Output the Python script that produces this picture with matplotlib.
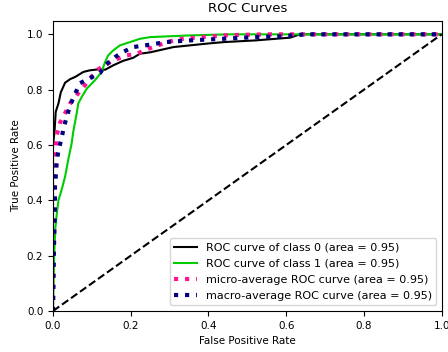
import matplotlib
matplotlib.use("Agg")
import matplotlib.pyplot as plt

# Class 0 ROC (black)
fpr0 = [0.0, 0.0, 0.004, 0.007, 0.014, 0.02, 0.031, 0.044, 0.057, 0.078, 0.095, 0.121, 0.134, 0.155, 0.18, 0.206, 0.224, 0.25, 0.31, 0.40, 0.44, 0.52, 0.61, 0.635, 1.0]
tpr0 = [0.0, 0.60, 0.65, 0.72, 0.75, 0.79, 0.825, 0.838, 0.846, 0.864, 0.870, 0.874, 0.872, 0.888, 0.904, 0.915, 0.93, 0.935, 0.954, 0.967, 0.972, 0.978, 0.988, 1.0, 1.0]

# Class 1 ROC (green)
fpr1 = [0.0, 0.003, 0.006, 0.01, 0.014, 0.022, 0.031, 0.039, 0.048, 0.052, 0.061, 0.065, 0.074, 0.087, 0.108, 0.125, 0.134, 0.142, 0.155, 0.172, 0.198, 0.224, 0.25, 0.35, 0.45, 1.0]
tpr1 = [0.0, 0.20, 0.30, 0.354, 0.40, 0.437, 0.485, 0.545, 0.606, 0.647, 0.715, 0.75, 0.774, 0.804, 0.834, 0.864, 0.90, 0.924, 0.942, 0.960, 0.972, 0.984, 0.99, 0.996, 1.0, 1.0]

# Micro-average (pink dotted)
fprmi = [0.0, 0.002, 0.004, 0.006, 0.0095, 0.018, 0.031, 0.044, 0.061, 0.082, 0.112, 0.155, 0.19, 0.215, 0.25, 0.29, 0.32, 0.38, 0.45, 0.55, 1.0]
tprmi = [0.0, 0.30, 0.50, 0.58, 0.635, 0.68, 0.715, 0.75, 0.78, 0.816, 0.87, 0.906, 0.924, 0.93, 0.95, 0.97, 0.982, 0.99, 0.997, 1.0, 1.0]

# Macro-average (navy dotted)
fprma = [0.0, 0.002, 0.005, 0.005, 0.008, 0.0095, 0.014, 0.022, 0.027, 0.035, 0.044, 0.069, 0.09, 0.121, 0.134, 0.16, 0.18, 0.206, 0.237, 0.29, 0.35, 0.44, 0.52, 0.59, 0.65, 1.0]
tprma = [0.0, 0.20, 0.377, 0.449, 0.503, 0.539, 0.581, 0.624, 0.66, 0.70, 0.744, 0.823, 0.838, 0.86, 0.888, 0.918, 0.936, 0.954, 0.96, 0.972, 0.978, 0.984, 0.99, 0.993, 1.0, 1.0]

labels = ["ROC curve of class 0 (area = 0.95)",
          "ROC curve of class 1 (area = 0.95)",
          "micro-average ROC curve (area = 0.95)",
          "macro-average ROC curve (area = 0.95)"]

fs = 7.5
W, H = 448, 352
fig = plt.figure(figsize=(W / 100, H / 100), dpi=100)
left, right, top, bottom = 53, 441.7, 20.5, 311
ax = fig.add_axes([left / W, (H - bottom) / H, (right - left) / W, (bottom - top) / H])
ax.plot(fpr0, tpr0, color="black", lw=1.5, label=labels[0])
ax.plot(fpr1, tpr1, color="#00cc00", lw=1.5, label=labels[1])
ax.plot(fprmi, tprmi, color="deeppink", ls=":", lw=3, label=labels[2])
ax.plot(fprma, tprma, color="navy", ls=":", lw=3, label=labels[3])
ax.plot([0, 1], [0, 1], "k--", lw=1.5)
ax.set_xlim(0.0, 1.0)
ax.set_ylim(0.0, 1.05)
ax.set_xticks([0.0, 0.2, 0.4, 0.6, 0.8, 1.0])
ax.set_yticks([0.0, 0.2, 0.4, 0.6, 0.8, 1.0])
ax.tick_params(labelsize=fs)
ax.set_xlabel("False Positive Rate", fontsize=fs)
ax.set_ylabel("True Positive Rate", fontsize=fs)
ax.set_title("ROC Curves", fontsize=9.5)
ax.legend(loc="lower right", fontsize=8, labelspacing=0.55)
fig.savefig("out.png", dpi=100)
